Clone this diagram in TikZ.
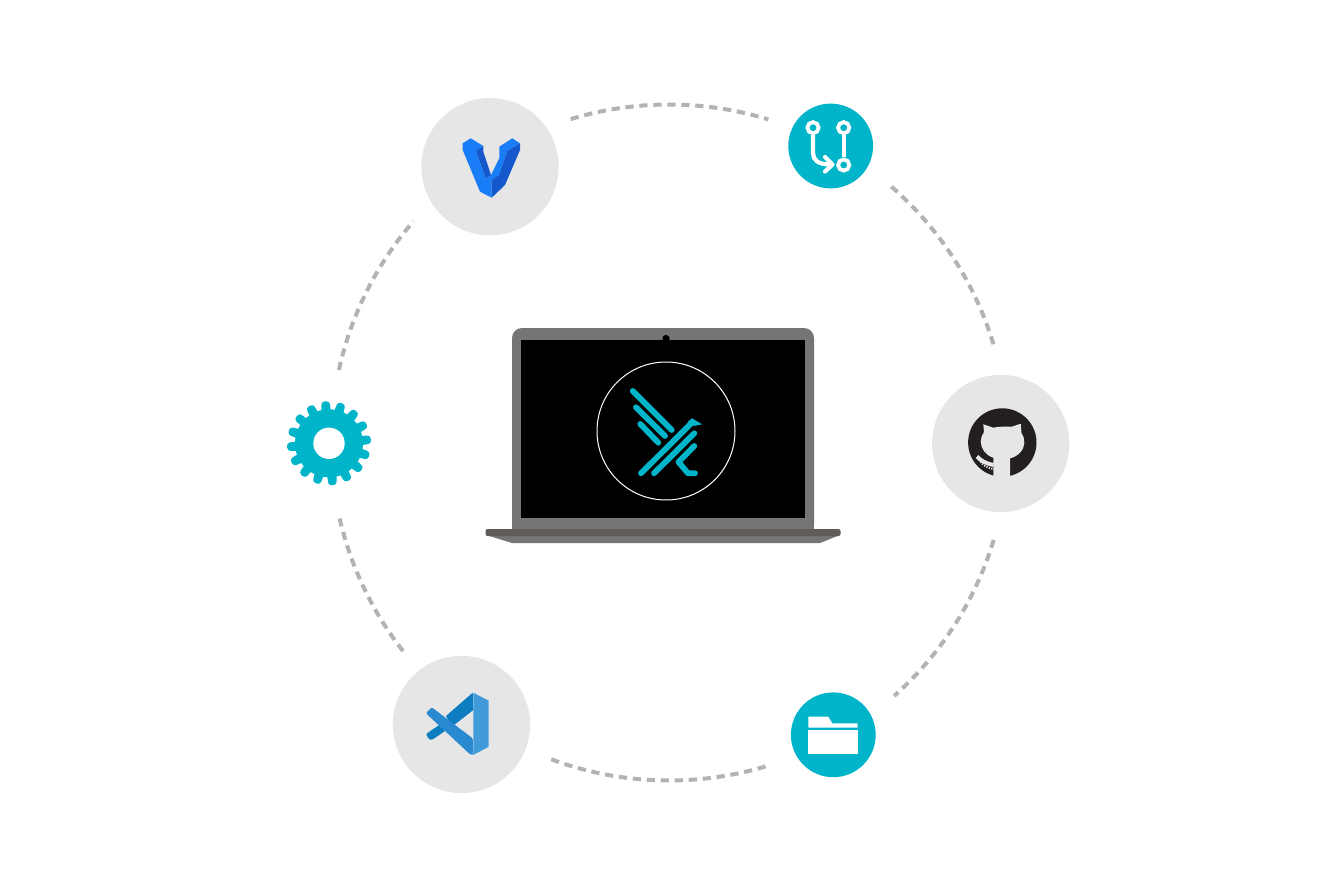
\documentclass[tikz,border=0pt]{standalone}
\usepackage{tikz}
\usepackage{xcolor}
\usetikzlibrary{positioning,shapes,calc}
\definecolor{ringgray}{HTML}{B3B3B3}
\definecolor{discgray}{HTML}{E6E6E6}
\definecolor{tealicon}{HTML}{00B5C9}
\definecolor{lidgray}{HTML}{757575}
\definecolor{hingegray}{HTML}{5F5C59}
\definecolor{catblack}{HTML}{231F20}
\definecolor{vagrantlight}{HTML}{1A7DF8}
\definecolor{vagrantdark}{HTML}{1458CC}
\definecolor{codedark}{HTML}{0E7CC0}
\definecolor{codemid}{HTML}{2A8AD1}
\definecolor{codelight}{HTML}{419BDA}
\begin{document}
\begin{tikzpicture}[x=0.05cm,y=-0.05cm]
\tikzstyle{every node}+=[inner sep=0pt]
\tikzstyle{ringarc}=[ringgray,line width=0.2cm,dash pattern=on 0.41cm off 0.29cm]
\tikzstyle{bigdisc}=[circle,fill=discgray,minimum size=6.86cm]
\tikzstyle{smalldisc}=[circle,fill=tealicon,minimum size=4.24cm]
\tikzstyle{gitline}=[white,line width=0.21cm,line join=round]
\tikzstyle{gitring}=[circle,draw=white,line width=0.19cm,minimum size=0.56cm]
\tikzstyle{logoline}=[tealicon,line width=0.29cm,line cap=round,line join=round]
\useasboundingbox (0,0) rectangle (1324,875);
\fill [white] (0,0) rectangle (1324,875);
\coordinate (ringcentre) at (669,442.5);
\coordinate (toparc) at ($(ringcentre)+(253.1:338)$);
\coordinate (uprightarc) at ($(ringcentre)+(311:339)$);
\coordinate (lowrightarc) at ($(ringcentre)+(16.7:339)$);
\coordinate (bottomarc) at ($(ringcentre)+(73.4:338)$);
\coordinate (lowleftarc) at ($(ringcentre)+(141.9:338)$);
\coordinate (upleftarc) at ($(ringcentre)+(192.4:338)$);
\draw [ringarc] (toparc) arc [start angle=253.1,end angle=287.1,radius=338];
\draw [ringarc] (uprightarc) arc [start angle=311,end angle=343.5,radius=339];
\draw [ringarc] (lowrightarc) arc [start angle=16.7,end angle=48.4,radius=339];
\draw [ringarc] (bottomarc) arc [start angle=73.4,end angle=110.4,radius=338];
\draw [ringarc] (lowleftarc) arc [start angle=141.9,end angle=167,radius=338];
\draw [ringarc] (upleftarc) arc [start angle=192.4,end angle=220.9,radius=338];
\node [bigdisc] (vagrant) at (490,166.7) {};
\node [smalldisc] (gitdisc) at (830.7,146) {};
\node [bigdisc] (github) at (1000.7,443.5) {};
\node [smalldisc] (folder) at (833.3,734.8) {};
\node [bigdisc] (vscode) at (461.5,724.5) {};
\fill [lidgray,rounded corners=0.5cm] (512,535) -- (512,328) -- (814,328) -- (814,535) -- cycle;
\fill [lidgray] (512,500) rectangle (814,535);
\fill [black] (521,340) rectangle (805,518);
\node [circle,fill=black,minimum size=0.36cm] (camera) at (666,338.5) {};
\fill [lidgray] (486,535) -- (840,535) -- (820,543) -- (512,543) -- cycle;
\fill [hingegray,rounded corners=0.1cm] (485.5,529) rectangle (840.5,536);
\node [circle,draw=white,line width=0.05cm,minimum size=6.9cm] (logoring) at (666,431) {};
\draw [logoline] (632.7,391) -- (671.7,430);
\draw [logoline] (636,407.3) -- (665,436);
\draw [logoline] (640.3,424) -- (658.3,442.7);
\draw [logoline] (641,473.3) -- (691,423.5);
\fill [tealicon] (688,421.5) -- (692,418.3) -- (702,424.3) -- (694,426) -- cycle;
\draw [logoline] (654,473.3) -- (694.3,433.3);
\draw [logoline] (694.3,446) -- (678.5,462) -- (688,473.3) -- (695,473.3);
\fill [vagrantlight] (462.7,143.3) -- (470.7,138.3) -- (483.3,146) -- (476,151) -- (485.7,178.3) -- (491,175) -- (499.3,158.3) -- (499.3,146.7) -- (512.3,138.3) -- (520,143.3) -- (507.3,151) -- (499,175) -- (491.7,180) -- (491.7,197.7) -- (480,191.7) -- (462.7,150) -- cycle;
\fill [vagrantdark] (476,151) -- (483.3,146) -- (483.3,151.7) -- (491,175) -- (485.7,178.3) -- cycle;
\fill [vagrantdark] (520,143.3) -- (520,150) -- (505,185) -- (491.7,197.7) -- (491.7,180) -- (499,175) -- (507.3,151) -- cycle;
\node [gitring] (gitleft) at (813,127.7) {};
\node [gitring] (gitright) at (843.7,127.7) {};
\node [gitring] (gitmerge) at (843.7,165) {};
\draw [gitline] (gitleft) -- (813,153) .. controls (813,160) and (818,164.5) .. (830,164.5);
\draw [gitline,line cap=round] (825,157) -- (832.5,164.5) -- (825,171.5);
\draw [gitline] (gitright) -- (gitmerge);
\node [circle,fill=catblack,minimum size=3.42cm] (cathead) at (1002.3,442.5) {};
\fill [discgray] (993.3,478) -- (993.3,457.7) .. controls (986,455.5) and (980.9,449) .. (980.7,441.7) .. controls (980.7,438) and (982,435) .. (984,432) -- (983.3,424.3) -- (993.3,427.7) .. controls (998,426.5) and (1006,426.5) .. (1011.7,426.7) -- (1020.7,423.7) -- (1021.5,433) .. controls (1024,437) and (1024.5,440) .. (1024.3,443.3) .. controls (1024,450) and (1018,456.5) .. (1010,458.3) -- (1010,478) -- cycle;
\draw [discgray,line width=0.2cm] (977,456.5) .. controls (981,460.5) and (984,463) .. (993.5,465);
\draw [discgray,line width=0.1cm,dash pattern=on 0.06cm off 0.07cm] (979,459.5) .. controls (982,464) and (986,468) .. (993.5,469);
\fill [white] (808.3,716.7) -- (828.3,716.7) -- (832.3,723.3) -- (857.7,723.3) -- (857.7,727.7) -- (808.3,727.7) -- cycle;
\fill [white] (808.3,729.7) rectangle (857.7,753.7);
\fill [codedark,rounded corners=0.06cm] (426,734) -- (441.7,723.3) -- (450,727.7) -- (431.7,740) -- (429,739.3) -- cycle;
\fill [codedark] (446,716) -- (472.7,692.7) -- (473.3,710) -- (455,724.3) -- (450,724) -- cycle;
\fill [codemid,rounded corners=0.06cm] (426,713.3) -- (431.7,707.3) -- (472.7,738.3) -- (473.3,755) -- (470,754.3) -- cycle;
\fill [codelight] (473.3,692.7) -- (488.7,700.7) -- (488.7,746.7) -- (473.3,755) -- cycle;
\node [circle,fill=tealicon,minimum size=3.4cm] (gear) at (329,443.3) {};
\foreach \a in {0,22.5,...,337.5}
\fill [tealicon,rounded corners=0.15cm,shift={(gear)},rotate=-\a-265] (28,-5) -- (42,-4) -- (42,4) -- (28,5) -- cycle;
\node [circle,fill=white,minimum size=1.57cm] (gearhole) at (gear) {};
\end{tikzpicture}
\end{document}
